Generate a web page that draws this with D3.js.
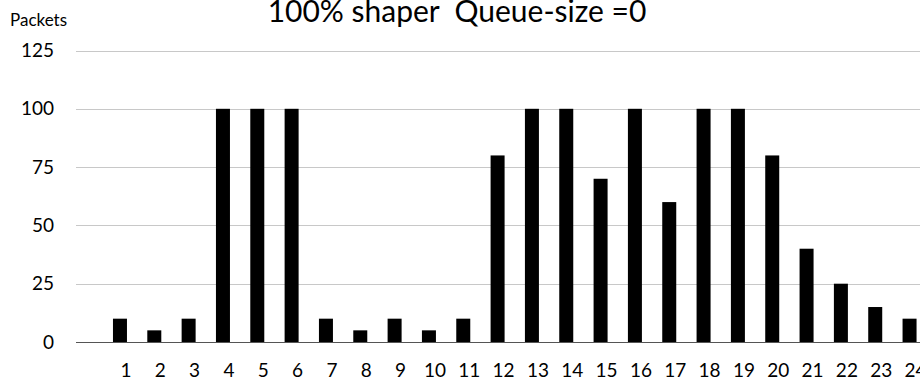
<!DOCTYPE html>
<html>
    <head>
        <meta charset="UTF-8">
        <script src="https://d3js.org/d3.v7.min.js"></script>
        <style>
            body { margin: 0; background: white; }
            svg { display: block; font-family: Lato, "Open Sans", sans-serif; }
            .grid line { stroke: #c8c8c8; stroke-width: 1px; }
            .grid .zero { stroke: #555; }
            .bar { fill: black; }
            .tick-label { font-size: 19px; fill: black; }
        </style>
    </head>
    <body>
        <svg width="920" height="386"></svg>
        <script>
            const slots = d3.range(1, 25).map(String);
            const packets = [10, 5, 10, 100, 100, 100, 10, 5, 10, 5, 10, 80,
                             100, 100, 70, 100, 60, 100, 100, 80, 40, 25, 15, 10];
            const yTicks = [0, 25, 50, 75, 100, 125];

            const width = 920, height = 386;
            const svg = d3.select("svg");

            const x = d3.scaleBand()
                .domain(slots)
                .range([102.8, 102.8 + 34.33 * slots.length])
                .paddingInner(0.59)
                .paddingOuter(0.295);

            const y = d3.scaleLinear()
                .domain([0, 125])
                .range([342, 50.5]);

            // gridlines
            const grid = svg.append("g").attr("class", "grid");
            grid.selectAll("line")
                .data(yTicks)
                .join("line")
                    .attr("class", d => d === 0 ? "zero" : null)
                    .attr("x1", 76)
                    .attr("x2", width)
                    .attr("y1", d => Math.round(y(d)) + 0.5)
                    .attr("y2", d => Math.round(y(d)) + 0.5);

            // y tick labels
            svg.append("g")
                .selectAll("text")
                .data(yTicks)
                .join("text")
                    .attr("class", "tick-label")
                    .attr("x", 54)
                    .attr("y", d => y(d))
                    .attr("dy", "0.35em")
                    .attr("text-anchor", "end")
                    .text(d => d);

            // bars
            const bw = 14;
            svg.append("g")
                .selectAll("rect")
                .data(packets)
                .join("rect")
                    .attr("class", "bar")
                    .attr("x", (d, i) => x(slots[i]) + x.bandwidth() / 2 - bw / 2)
                    .attr("width", bw)
                    .attr("y", d => y(d))
                    .attr("height", d => y(0) - y(d));

            // x labels (sit a little right of the bars, as in the original)
            svg.append("g")
                .selectAll("text")
                .data(slots)
                .join("text")
                    .attr("class", "tick-label")
                    .attr("x", d => x(d) + x.bandwidth() / 2 + 6)
                    .attr("y", 377)
                    .attr("text-anchor", "middle")
                    .text(d => d);

            svg.append("text")
                .attr("x", 10)
                .attr("y", 26)
                .style("font-size", "17px")
                .text("Packets");

            svg.append("text")
                .attr("x", 457)
                .attr("y", 22)
                .attr("text-anchor", "middle")
                .style("font-size", "30px")
                .style("white-space", "pre")
                .text("100% shaper  Queue-size =0");
        </script>
    </body>
</html>
